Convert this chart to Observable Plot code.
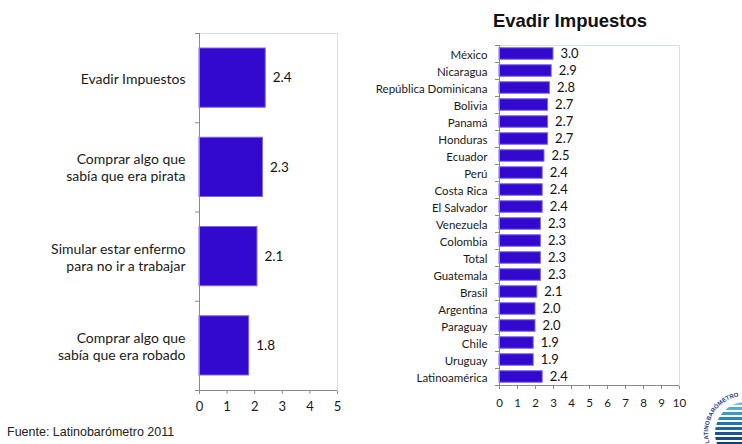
<!DOCTYPE html>
<html>
<head>
<meta charset="utf-8">
<script src="https://cdn.jsdelivr.net/npm/d3@7"></script>
<script src="https://cdn.jsdelivr.net/npm/@observablehq/plot@0.6"></script>
<style>
  html, body { margin: 0; padding: 0; background: #fff; }
  #wrap { position: relative; width: 742px; height: 444px; overflow: hidden; background: #fff; }
  #left, #right { position: absolute; top: 0; }
  #left { left: 0; }
  #right { left: 370px; }
  #title { position: absolute; left: 420px; width: 300px; top: 10px; text-align: center;
    font: bold 18.5px "Liberation Sans", Arial, sans-serif; color: #111; }
  #footer { position: absolute; left: 7px; top: 425px; font: 12.5px "Liberation Sans", Arial, sans-serif; color: #222; }
  #logo { position: absolute; left: 690px; top: 370px; }
  g[aria-label="x-axis tick"], g[aria-label="y-axis tick"] { stroke: #8a8a8a; }
</style>
</head>
<body>
<div id="wrap">
  <div id="left"></div>
  <div id="title">Evadir Impuestos</div>
  <div id="right"></div>
  <div id="footer">Fuente: Latinobarómetro 2011</div>
  <svg id="logo" width="52" height="74" viewBox="690 370 52 74">
    <defs>
      <clipPath id="disc"><circle cx="746" cy="433" r="31"/></clipPath>
      <path id="ring" d="M 709.5 443 A 37 37 0 0 1 742 396"/>
    </defs>
    <g clip-path="url(#disc)">
      <rect x="700" y="395" width="90" height="80" fill="#fff"/>
      <rect x="700" y="402" width="90" height="3" fill="#6cc3de"/>
      <rect x="700" y="407" width="90" height="3" fill="#52afd4"/>
      <rect x="700" y="412" width="90" height="3" fill="#3c99c9"/>
      <rect x="700" y="417" width="90" height="3" fill="#2e84bd"/>
      <rect x="700" y="422" width="90" height="3" fill="#2571b1"/>
      <rect x="700" y="427" width="90" height="3" fill="#1f61a5"/>
      <rect x="700" y="432" width="90" height="3" fill="#1b5399"/>
      <rect x="700" y="437" width="90" height="3" fill="#17478c"/>
      <rect x="700" y="442" width="90" height="3" fill="#143b7e"/>
    </g>
    <text font-family="Liberation Sans, Arial" font-weight="bold" font-size="6" fill="#1d3f7e">
      <textPath href="#ring" textLength="62" lengthAdjust="spacing">LATINOBARÓMETRO</textPath>
    </text>
  </svg>
</div>
<script>
// ---- Data (left chart) ----
const behaviours = [
  "Evadir Impuestos",
  "Comprar algo que\nsabía que era pirata",
  "Simular estar enfermo\npara no ir a trabajar",
  "Comprar algo que\nsabía que era robado"
];
const behaviourValues = [2.4, 2.3, 2.1, 1.8];
const leftTicks = [0, 1, 2, 3, 4, 5];

// ---- Data (right chart) ----
const countries = [
  "México", "Nicaragua", "República Dominicana", "Bolivia", "Panamá", "Honduras",
  "Ecuador", "Perú", "Costa Rica", "El Salvador", "Venezuela", "Colombia", "Total",
  "Guatemala", "Brasil", "Argentina", "Paraguay", "Chile", "Uruguay", "Latinoamérica"
];
const countryValues = [3.0, 2.9, 2.8, 2.7, 2.7, 2.7, 2.5, 2.4, 2.4, 2.4, 2.3, 2.3, 2.3, 2.3, 2.1, 2.0, 2.0, 1.9, 1.9, 2.4];
const rightTicks = [0, 1, 2, 3, 4, 5, 6, 7, 8, 9, 10];

const barFill = "#3309d0";
const barStroke = "#7a68e6";
const axisGray = "#8a8a8a";
const frameColor = "#cfe4ea";

function hbarChart({cats, vals, ticks, width, height, mt, mr, mb, ml, inset, catSize, valSize, tickSize, tickPadding, catDx}) {
  const rows = cats.map((c, i) => ({cat: c, value: vals[i], i}));
  const n = cats.length;
  return Plot.plot({
    width, height,
    marginTop: mt, marginRight: mr, marginBottom: mb, marginLeft: ml,
    style: {fontFamily: "Lato, sans-serif", fontSize: tickSize + "px", color: "#1a1a1a", background: "transparent"},
    x: {domain: [0, ticks[ticks.length - 1]], ticks, tickFormat: d3.format("d"), tickSize: 4, tickPadding, label: null},
    y: {domain: [0, n], reverse: true, ticks: d3.range(n + 1), tickSize: 4, tickFormat: () => "", label: null},
    marks: [
      Plot.frame({stroke: frameColor}),
      Plot.rectX(rows, {x1: 0, x2: "value", y1: "i", y2: d => d.i + 1,
        insetTop: inset, insetBottom: inset, fill: barFill, stroke: barStroke, strokeWidth: 1}),
      Plot.ruleX([0], {stroke: axisGray}),
      Plot.ruleY([n], {stroke: axisGray}),
      Plot.text(rows, {x: 0, y: d => d.i + 0.5, text: "cat", textAnchor: "end", dx: catDx,
        fontSize: catSize, lineHeight: 1.22, fill: "#1a1a1a"}),
      Plot.text(rows, {x: "value", y: d => d.i + 0.5, text: d => d.value.toFixed(1), textAnchor: "start",
        dx: 7, fontSize: valSize, fill: "#111"})
    ]
  });
}

document.getElementById("left").appendChild(hbarChart({
  cats: behaviours, vals: behaviourValues, ticks: leftTicks,
  width: 360, height: 444, mt: 33, mr: 23, mb: 54, ml: 199,
  inset: 15, catSize: 14, valSize: 13.5, tickSize: 13, tickPadding: 7, catDx: -14
}));

document.getElementById("right").appendChild(hbarChart({
  cats: countries, vals: countryValues, ticks: rightTicks,
  width: 372, height: 444, mt: 45, mr: 63, mb: 59, ml: 129,
  inset: 2.75, catSize: 11.5, valSize: 13, tickSize: 11.5, tickPadding: 9, catDx: -12
}));
</script>
</body>
</html>
